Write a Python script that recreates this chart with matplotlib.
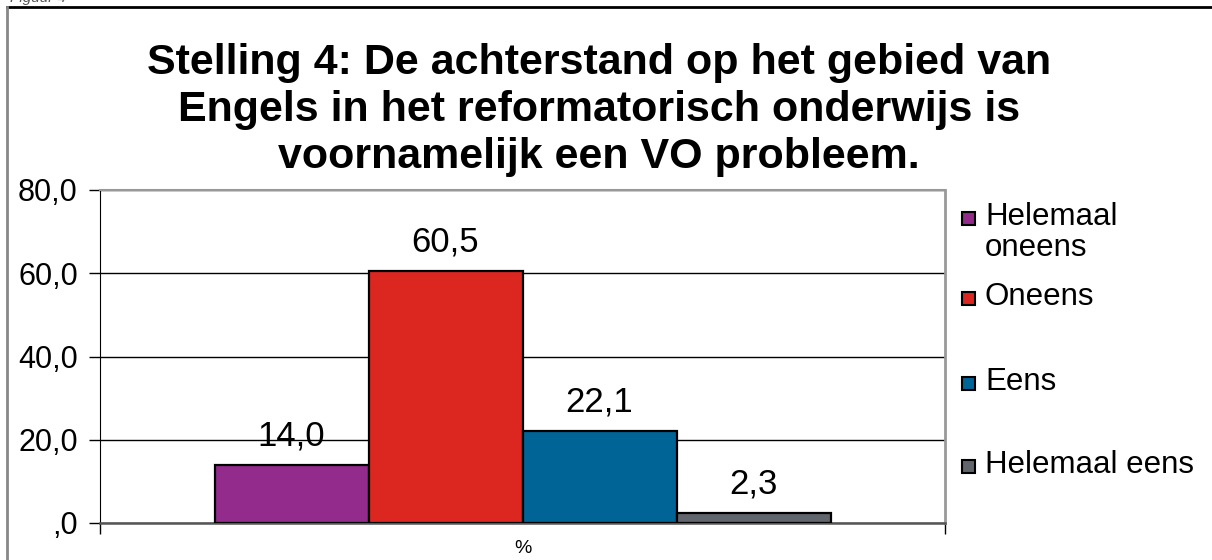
import matplotlib
matplotlib.use("Agg")
import matplotlib.pyplot as plt
from matplotlib.lines import Line2D
from matplotlib.patches import Rectangle

plt.rcParams["font.family"] = ["Liberation Sans", "DejaVu Sans"]

TITLE = ("Stelling 4: De achterstand op het gebied van\n"
         "Engels in het reformatorisch onderwijs is\n"
         "voornamelijk een VO probleem.")
CATEGORIES = ["Helemaal\noneens", "Oneens", "Eens", "Helemaal eens"]
VALUES = [14.0, 60.5, 22.1, 2.3]
VALUE_LABELS = ["14,0", "60,5", "22,1", "2,3"]
COLORS = ["#922B8C", "#DC2620", "#016496", "#61666C"]
Y_TICKS = [0, 20, 40, 60, 80]
Y_TICK_LABELS = [",0", "20,0", "40,0", "60,0", "80,0"]
X_LABEL = "%"

W, H = 1212, 560
fig = plt.figure(figsize=(W / 100, H / 100), dpi=100)

# outer chart frame (only top and left edges visible)
fig.add_artist(Line2D([7 / W, 1.0], [1 - 7 / H, 1 - 7 / H], color="black", lw=2,
                      transform=fig.transFigure))
fig.add_artist(Line2D([7 / W, 7 / W], [0.0, 1 - 7 / H], color="#888888", lw=2,
                      transform=fig.transFigure))
fig.text(10 / W, 1 + 2 / H, "Figuur 4", fontsize=11, style="italic",
         color="#555555", va="center")

ax = fig.add_axes([100 / W, 37 / H, 845 / W, 333 / H])

bar_w = 154 / 845
n = len(VALUES)
for i, (cat, val, lab, col) in enumerate(zip(CATEGORIES, VALUES, VALUE_LABELS, COLORS)):
    x = (i - (n - 1) / 2) * bar_w
    ax.bar(x, val, width=bar_w, color=col, edgecolor="black", linewidth=1.6,
           label=cat, zorder=3)
    ax.annotate(lab, (x, val), xytext=(0, 9), textcoords="offset points",
                ha="center", va="bottom", fontsize=25, zorder=4)

ax.set_xlim(-0.5, 0.5)
ax.set_ylim(0, 80)
ax.set_yticks(Y_TICKS)
ax.set_yticklabels(Y_TICK_LABELS, fontsize=22)
ax.tick_params(axis="y", length=8, width=1, pad=8, direction="out")
ax.set_xticks([0])
ax.set_xticklabels([X_LABEL], fontsize=14)
ax.tick_params(axis="x", length=0, pad=12)
ax.set_xticks([-0.5, 0.5], minor=True)
ax.tick_params(axis="x", which="minor", length=8, width=1)
ax.yaxis.grid(True, color="black", linewidth=1, zorder=0)
ax.set_axisbelow(True)

ax.spines["left"].set_color("black")
ax.spines["bottom"].set_color("#555555")
ax.spines["bottom"].set_linewidth(1.8)
ax.spines["top"].set_color("#999999")
ax.spines["top"].set_linewidth(1.5)
ax.spines["right"].set_color("#999999")
ax.spines["right"].set_linewidth(2)

fig.text(0.494, 1 - 110 / H, TITLE, ha="center", va="center", fontsize=31,
         fontweight="bold", linespacing=1.22)

# legend to the right of the plot, marker beside the first line of each label
legend_y = [218, 298, 383, 466]
for cat, col, y in zip(CATEGORIES, COLORS, legend_y):
    fig.add_artist(Rectangle((962 / W, 1 - (y + 7) / H), 13 / W, 13 / H,
                             facecolor=col, edgecolor="black", linewidth=1.5,
                             transform=fig.transFigure))
    fig.text(985 / W, 1 - (y - 16) / H, cat, ha="left", va="top", fontsize=22.5,
             linespacing=1.05)

fig.savefig("out.png", dpi=100)
